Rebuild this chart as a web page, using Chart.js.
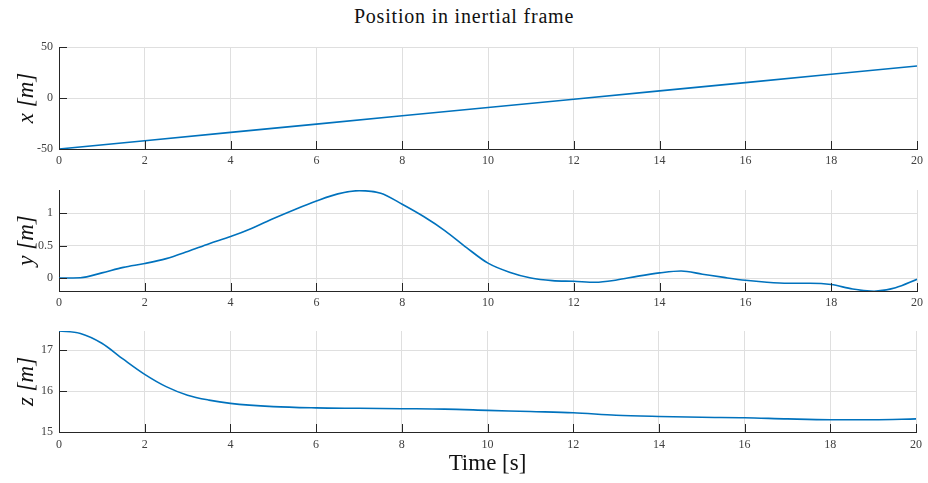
<!DOCTYPE html>
<html>
<head>
<meta charset="utf-8">
<title>Position in inertial frame</title>
<script src="https://cdn.jsdelivr.net/npm/chart.js@4.4.1/dist/chart.umd.min.js"></script>
<style>
    html, body { margin: 0; padding: 0; background: #fff; }
    #wrap { position: relative; width: 928px; height: 483px; overflow: hidden; }
    #wrap canvas { position: absolute; left: 0; }
    #figTitle {
        position: absolute; left: 0; top: 5px; width: 928px; text-align: center;
        font-family: "Liberation Serif", "DejaVu Serif", serif; font-size: 20px; letter-spacing: 0.8px; color: #111;
    }
</style>
</head>
<body>
<div id="wrap">
    <div id="figTitle">Position in inertial frame</div>
    <canvas id="chartX" width="928" height="170" style="top:0px"></canvas>
    <canvas id="chartY" width="928" height="145" style="top:170px"></canvas>
    <canvas id="chartZ" width="928" height="168" style="top:315px"></canvas>
</div>
<script>
    // time axis ticks (seconds)
    const timeTicks = [0, 2, 4, 6, 8, 10, 12, 14, 16, 18, 20];

    // x position [m]
    const xTime = [0, 2, 4, 6, 8, 10, 12, 14, 16, 18, 20];
    const xPos = [-50, -41.9, -33.7, -25.6, -17.4, -9.3, -1.2, 7.0, 15.1, 23.3, 31.4];
    const xTicks = [-50, 0, 50];

    // y position [m]
    const yTime = [0, 0.5, 1, 1.5, 2, 2.5, 3, 3.5, 4, 4.5, 5, 5.5, 6, 6.5, 7, 7.5, 8, 8.5, 9, 9.5,
        10, 10.5, 11, 11.5, 12, 12.5, 13, 13.5, 14, 14.5, 15, 15.5, 16, 16.5, 17, 17.5, 18, 18.5, 19, 19.5, 20];
    const yPos = [0, 0.005, 0.08, 0.165, 0.225, 0.30, 0.41, 0.53, 0.64, 0.77, 0.92, 1.06, 1.19, 1.30, 1.35, 1.31,
        1.14, 0.95, 0.73, 0.47, 0.23, 0.09, 0.0, -0.04, -0.05, -0.065, -0.03, 0.03, 0.08, 0.11,
        0.06, 0.01, -0.035, -0.065, -0.08, -0.08, -0.1, -0.17, -0.205, -0.15, -0.02];
    const yTicks = [0, 0.5, 1];

    // z position [m]
    const zTime = [0, 0.5, 1, 1.5, 2, 2.5, 3, 3.5, 4, 5, 6, 7, 8, 9, 10, 11, 12, 13, 14, 15, 16, 17, 18, 19, 20];
    const zPos = [17.47, 17.41, 17.17, 16.78, 16.41, 16.11, 15.90, 15.78, 15.70, 15.62, 15.59, 15.58, 15.57, 15.56,
        15.53, 15.50, 15.47, 15.41, 15.38, 15.36, 15.35, 15.32, 15.30, 15.30, 15.32];
    const zTicks = [15, 16, 17];

    const lineColor = '#0072BD';
    const axisColor = '#262626';
    const gridColor = '#dfdfdf';
    const serif = '"Liberation Serif", "DejaVu Serif", serif';

    // matlab style tick marks pointing into the plot area
    const inwardTicks = {
        id: 'inwardTicks',
        afterDatasetsDraw: function (chart) {
            let ctx = chart.ctx;
            let area = chart.chartArea;
            let sx = chart.scales.x;
            let sy = chart.scales.y;
            ctx.save();
            ctx.strokeStyle = axisColor;
            ctx.lineWidth = 1;
            ctx.beginPath();
            sx.ticks.forEach(function (t) {
                let px = Math.round(sx.getPixelForValue(t.value)) + 0.5;
                ctx.moveTo(px, area.bottom);
                ctx.lineTo(px, area.bottom - 8);
            });
            sy.ticks.forEach(function (t) {
                let py = Math.round(sy.getPixelForValue(t.value)) + 0.5;
                ctx.moveTo(area.left, py);
                ctx.lineTo(area.left + 8, py);
            });
            ctx.stroke();
            ctx.restore();
        }
    };

    function toPoints(ts, vs) {
        return ts.map(function (t, i) { return {x: t, y: vs[i]}; });
    }

    function makeChart(id, ts, vs, opts) {
        let ctx = document.getElementById(id).getContext('2d');
        return new Chart(ctx, {
            type: 'line',
            data: {
                datasets: [{
                    data: toPoints(ts, vs),
                    borderColor: lineColor,
                    borderWidth: 1.6,
                    pointRadius: 0,
                    cubicInterpolationMode: opts.smooth ? 'monotone' : 'default',
                    tension: 0,
                    fill: false
                }]
            },
            options: {
                responsive: false,
                animation: false,
                devicePixelRatio: 1,
                layout: {padding: {top: opts.padTop, right: 11, left: 0, bottom: 0}},
                plugins: {legend: {display: false}, tooltip: {enabled: false}},
                scales: {
                    x: {
                        type: 'linear',
                        min: 0,
                        max: 20,
                        afterBuildTicks: function (scale) {
                            scale.ticks = timeTicks.map(function (v) { return {value: v}; });
                        },
                        afterFit: function (scale) { scale.height = opts.xHeight; },
                        grid: {color: gridColor, drawTicks: false},
                        border: {color: axisColor, width: 1},
                        ticks: {
                            padding: opts.xTickPad,
                            color: '#404040',
                            font: {family: serif, size: 12},
                            maxRotation: 0,
                            callback: function (v) { return String(v); }
                        },
                        title: {
                            display: !!opts.xTitle,
                            text: opts.xTitle || '',
                            color: '#111',
                            font: {family: serif, size: 23},
                            padding: {top: 0, bottom: 5}
                        }
                    },
                    y: {
                        type: 'linear',
                        min: opts.yMin,
                        max: opts.yMax,
                        afterBuildTicks: function (scale) {
                            scale.ticks = opts.yTicks.map(function (v) { return {value: v}; });
                        },
                        afterFit: function (scale) { scale.width = 59; },
                        grid: {color: gridColor, drawTicks: false},
                        border: {color: axisColor, width: 1},
                        ticks: {
                            padding: 6,
                            color: '#404040',
                            font: {family: serif, size: 12},
                            callback: function (v) { return String(v); }
                        },
                        title: {
                            display: true,
                            text: opts.yTitle,
                            color: '#111',
                            font: {family: serif, size: 23, style: 'italic'},
                            padding: {top: 13, bottom: 0}
                        }
                    }
                }
            },
            plugins: [inwardTicks]
        });
    }

    makeChart('chartX', xTime, xPos, {
        smooth: false, padTop: 47, xHeight: 21, xTickPad: 5,
        yMin: -50, yMax: 50, yTicks: xTicks, yTitle: 'x [m]'
    });
    makeChart('chartY', yTime, yPos, {
        smooth: true, padTop: 20, xHeight: 24, xTickPad: 5,
        yMin: -0.2, yMax: 1.36, yTicks: yTicks, yTitle: 'y [m]'
    });
    makeChart('chartZ', zTime, zPos, {
        smooth: true, padTop: 16, xHeight: 51, xTickPad: 6,
        yMin: 15, yMax: 17.47, yTicks: zTicks, yTitle: 'z [m]', xTitle: 'Time [s]'
    });
</script>
</body>
</html>
